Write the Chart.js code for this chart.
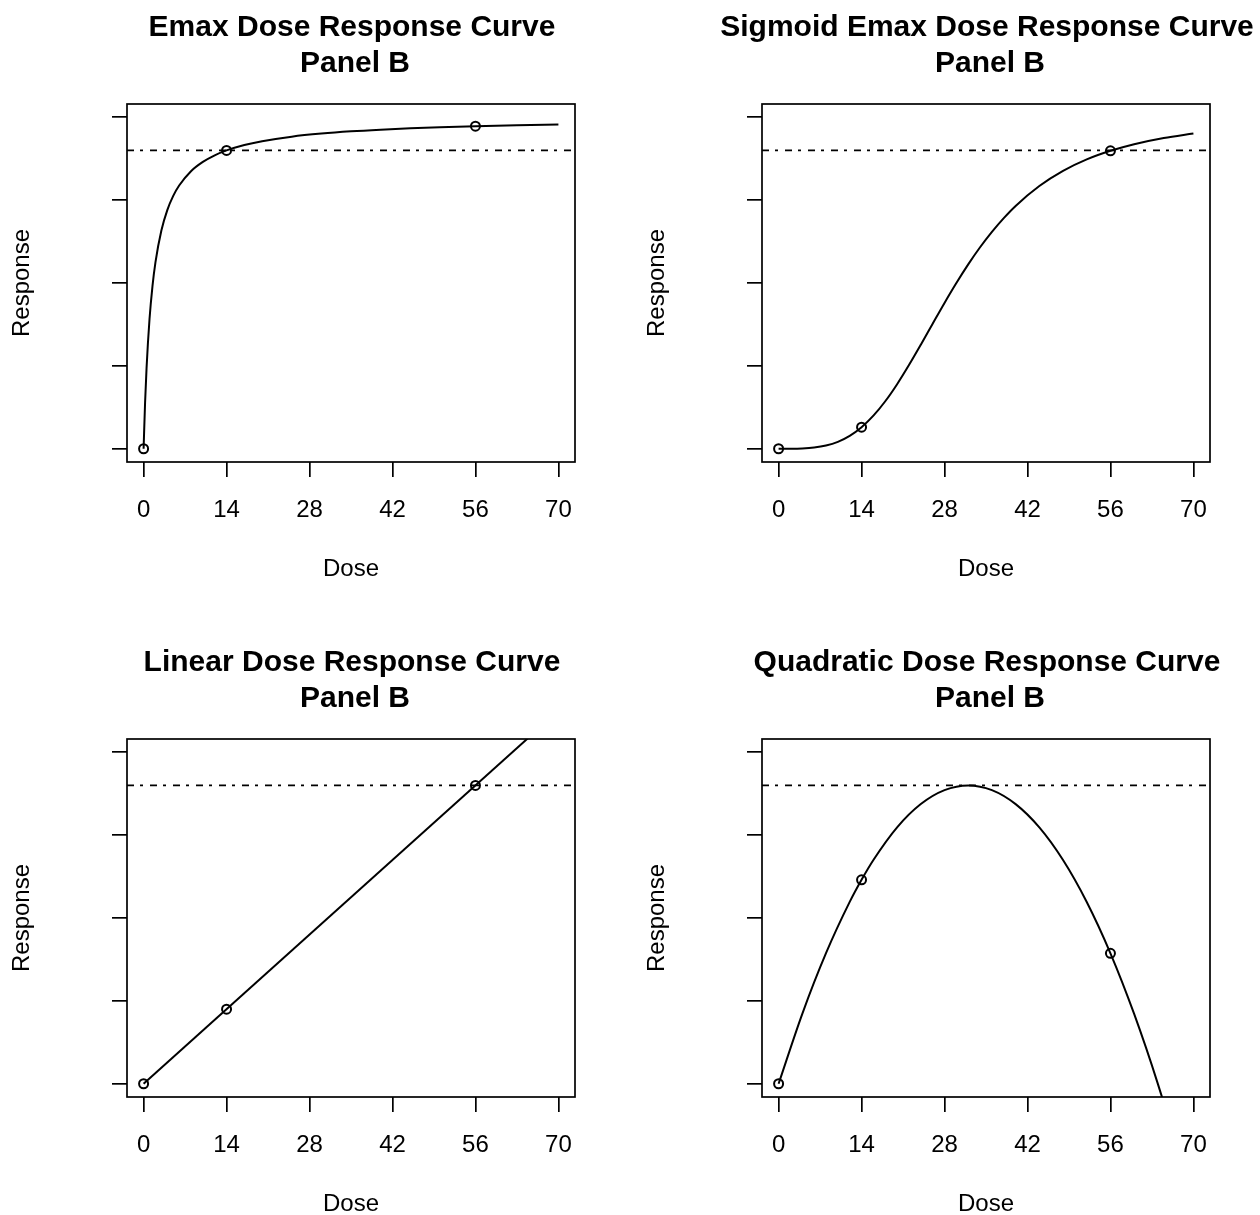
<!DOCTYPE html>
<html>
<head>
<meta charset="utf-8">
<title>Dose Response Curves - Panel B</title>
<script src="https://cdn.jsdelivr.net/npm/chart.js"></script>
<style>
  html, body { margin: 0; padding: 0; background: #fff; overflow: hidden; }
  .panel { position: absolute; width: 630px; height: 635px; }
</style>
</head>
<body>
<div class="panel" style="left:0;top:0"><canvas id="emax" width="630" height="635"></canvas></div>
<div class="panel" style="left:635px;top:0"><canvas id="sigmoid" width="630" height="635"></canvas></div>
<div class="panel" style="left:0;top:635px"><canvas id="linear" width="630" height="635"></canvas></div>
<div class="panel" style="left:635px;top:635px"><canvas id="quadratic" width="630" height="635"></canvas></div>

<script>
// tick positions and reference line
const xTicks = [0, 14, 28, 42, 56, 70];
const yTicks = [0, 1, 2, 3, 4];
const targetResponse = 3.6;
const obsDose = [0, 14, 56];

// Emax curve
const emaxDose = [0, 0.25, 0.5, 1, 1.5, 2, 3, 4, 5, 6, 8, 10, 12, 14, 17, 20, 25, 30, 35, 40, 45, 50, 56, 63, 70];
const emaxResp = [0, 0.554, 0.973, 1.565, 1.963, 2.25, 2.634, 2.88, 3.051, 3.176, 3.349, 3.461, 3.541, 3.6, 3.665, 3.711, 3.766, 3.803, 3.83, 3.85, 3.866, 3.879, 3.892, 3.904, 3.913];
const emaxObs = [0, 3.6, 3.892];

// Sigmoid Emax curve
const sigDose = [0, 2, 4, 6, 8, 10, 12, 14, 16, 18, 20, 22, 24, 26, 28, 30, 32, 34, 36, 38, 40, 44, 48, 52, 56, 60, 65, 70];
const sigResp = [0, 0.0003, 0.0035, 0.0143, 0.0388, 0.0837, 0.1556, 0.26, 0.399, 0.573, 0.779, 1.01, 1.256, 1.509, 1.76, 2.0, 2.225, 2.431, 2.617, 2.783, 2.93, 3.17, 3.353, 3.491, 3.595, 3.675, 3.75, 3.804];
const sigObs = [0, 0.26, 3.595];

// Linear curve
const linDose = [0, 70];
const linResp = [0, 4.5];
const linObs = [0, 0.9, 3.6];

// Quadratic curve
const quadDose = [0, 4, 8, 12, 14, 16, 20, 24, 28, 32, 36, 40, 44, 48, 52, 56, 60, 64, 68, 70];
const quadResp = [0, 0.844, 1.575, 2.194, 2.461, 2.7, 3.094, 3.375, 3.543, 3.6, 3.543, 3.374, 3.093, 2.699, 2.193, 1.574, 0.842, -0.001, -0.958, -1.478];
const quadObs = [0, 2.461, 1.574];

const FONT = "'Liberation Sans', Arial, Helvetica, sans-serif";

// box, dashed reference line and two-line title, like R base graphics
const rFrame = {
  id: 'rFrame',
  beforeDatasetsDraw(chart, args, opts) {
    const {ctx, chartArea: a, scales: {y}} = chart;
    const yy = y.getPixelForValue(opts.target);
    ctx.save();
    ctx.strokeStyle = '#000';
    ctx.lineWidth = 1.8;
    ctx.setLineDash([7, 6, 3, 7]);
    ctx.beginPath();
    ctx.moveTo(a.left, yy);
    ctx.lineTo(a.right, yy);
    ctx.stroke();
    ctx.restore();
  },
  afterDraw(chart, args, opts) {
    const {ctx, chartArea: a} = chart;
    ctx.save();
    ctx.strokeStyle = '#000';
    ctx.lineWidth = 1.7;
    ctx.strokeRect(a.left, a.top, a.right - a.left, a.bottom - a.top);
    ctx.fillStyle = '#000';
    ctx.font = 'bold 30px ' + FONT;
    ctx.textAlign = 'center';
    ctx.textBaseline = 'alphabetic';
    const cx = (a.left + a.right) / 2;
    ctx.fillText(opts.lines[0], cx + 1, 36);
    ctx.fillText(opts.lines[1], cx + 4, 72);
    ctx.restore();
  }
};

function makePanel(id, title, curveDose, curveResp, obsResp) {
  new Chart(document.getElementById(id), {
    type: 'scatter',
    data: {
      datasets: [
        {
          data: curveDose.map((d, i) => ({x: d, y: curveResp[i]})),
          showLine: true,
          borderColor: '#000',
          borderWidth: 2,
          pointRadius: 0,
          cubicInterpolationMode: 'monotone'
        },
        {
          data: obsDose.map((d, i) => ({x: d, y: obsResp[i]})),
          showLine: false,
          pointRadius: 4.5,
          pointBorderWidth: 2,
          pointBorderColor: '#000',
          pointBackgroundColor: 'rgba(0,0,0,0)'
        }
      ]
    },
    options: {
      responsive: false,
      animation: false,
      layout: { padding: { top: 104, right: 55, bottom: 0, left: 0 } },
      plugins: {
        legend: { display: false },
        tooltip: { enabled: false },
        rFrame: { target: targetResponse, lines: [title, 'Panel B'] }
      },
      scales: {
        x: {
          type: 'linear',
          min: -2.8,
          max: 72.8,
          afterBuildTicks: s => { s.ticks = xTicks.map(v => ({value: v})); },
          afterFit: s => { s.height = 173; },
          grid: { drawOnChartArea: false, drawTicks: true, tickLength: 15, color: '#000', lineWidth: 1.7 },
          border: { display: false },
          ticks: { color: '#000', font: { family: FONT, size: 24 }, padding: 19, autoSkip: false, maxRotation: 0 },
          title: { display: true, text: 'Dose', color: '#000', font: { family: FONT, size: 24 }, padding: { bottom: 51 } }
        },
        y: {
          type: 'linear',
          min: -0.16,
          max: 4.16,
          afterBuildTicks: s => { s.ticks = yTicks.map(v => ({value: v})); },
          afterFit: s => { s.width = 127; },
          grid: { drawOnChartArea: false, drawTicks: true, tickLength: 15, color: '#000', lineWidth: 1.7 },
          border: { display: false },
          ticks: { display: false },
          title: { display: true, text: 'Response', color: '#000', font: { family: FONT, size: 24 }, padding: { top: 8 } }
        }
      }
    },
    plugins: [rFrame]
  });
}

makePanel('emax', 'Emax Dose Response Curve', emaxDose, emaxResp, emaxObs);
makePanel('sigmoid', 'Sigmoid Emax Dose Response Curve', sigDose, sigResp, sigObs);
makePanel('linear', 'Linear Dose Response Curve', linDose, linResp, linObs);
makePanel('quadratic', 'Quadratic Dose Response Curve', quadDose, quadResp, quadObs);
</script>
</body>
</html>
